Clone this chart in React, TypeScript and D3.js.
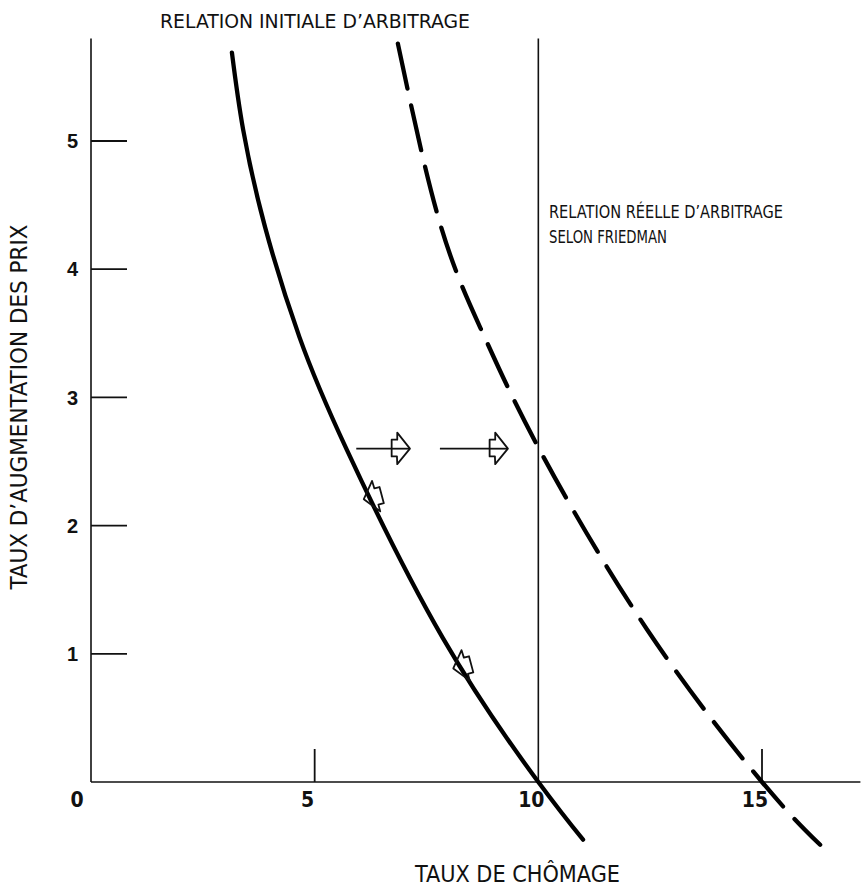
import React from "react";
import * as d3 from "d3";

// Phillips curves (unemployment %, price increase %)
const initialU = [3.15, 3.4, 3.89, 4.66, 5.72, 7.87, 10.0, 11.0];
const initialP = [5.69, 5.09, 4.33, 3.47, 2.59, 1.12, 0, -0.45];
const shiftedU = [6.86, 7.8, 8.76, 10.0, 12.43, 15.0, 16.3];
const shiftedP = [5.76, 4.36, 3.5, 2.61, 1.19, 0, -0.49];

// Friedman vertical (natural rate)
const naturalU = 10;

// horizontal shift arrows
const shiftFromU = [5.93, 7.8];
const shiftToU = [7.13, 9.32];
const shiftP = 2.6;

// arrows along the initial curve
const moveU = [6.25, 8.25];
const moveP = [2.22, 0.9];

const xTickVals = [0, 5, 10, 15];
const xTickLabels = ["0", "5", "10", "15"];
const yTickVals = [1, 2, 3, 4, 5];
const yTickLabels = ["1", "2", "3", "4", "5"];

const titleInitial = "RELATION INITIALE D\u2019ARBITRAGE";
const titleReal1 = "RELATION R\u00c9ELLE D\u2019ARBITRAGE";
const titleReal2 = "SELON FRIEDMAN";
const xLabel = "TAUX DE CH\u00d4MAGE";
const yLabel = "TAUX D\u2019AUGMENTATION DES PRIX";

const W = 861;
const H = 887;
const FONT = "'Liberation Sans Narrow', 'DejaVu Sans Condensed', 'Liberation Sans', sans-serif";

const x = d3.scaleLinear().domain([0, 15]).range([91, 762]);
const y = d3.scaleLinear().domain([0, 5]).range([782, 141]);

const arrowHead: [number, number][] = [
  [0, 0],
  [-12.7, -16],
  [-12.7, -9],
  [-18.3, -9],
  [-18.3, 7.7],
  [-13, 7.7],
  [-12.7, 15.5],
];
const headPath = "M" + arrowHead.map((p) => p.join(",")).join("L") + "Z";

export default function App() {
  const line = d3
    .line<[number, number]>()
    .x((d) => x(d[0]))
    .y((d) => y(d[1]))
    .curve(d3.curveNatural);
  const initial = line(initialU.map((u, i) => [u, initialP[i]]) as [number, number][]) || "";
  const shifted = line(shiftedU.map((u, i) => [u, shiftedP[i]]) as [number, number][]) || "";

  const yTop = 5.8;
  const xRight = 17.2;

  return (
    <svg
      width={W}
      height={H}
      style={{ position: "absolute", left: 0, top: 0, background: "#fff" }}
      fontFamily={FONT}
    >
      <rect width={W} height={H} fill="#fff" />
      {/* axes */}
      <line x1={x(0)} x2={x(0)} y1={y(0)} y2={y(yTop)} stroke="#111" strokeWidth={1.6} />
      <line x1={x(0)} x2={x(xRight)} y1={y(0)} y2={y(0)} stroke="#111" strokeWidth={1.6} />
      {/* natural rate vertical */}
      <line x1={x(naturalU)} x2={x(naturalU)} y1={y(0)} y2={y(yTop)} stroke="#111" strokeWidth={1.6} />

      {/* y ticks */}
      {yTickVals.map((v, i) => (
        <g key={"yt" + v}>
          <line x1={x(0)} x2={x(0) + 36} y1={y(v)} y2={y(v)} stroke="#111" strokeWidth={1.8} />
          <text
            x={x(0) - 13}
            y={y(v)}
            dy="0.36em"
            textAnchor="end"
            fontSize={20}
            fontWeight="bold"
            fontFamily="'Liberation Sans', sans-serif"
            fill="#111"
          >
            {yTickLabels[i]}
          </text>
        </g>
      ))}
      {/* x ticks */}
      {xTickVals.map((v, i) => (
        <g key={"xt" + v}>
          {v !== 0 && v !== naturalU && (
            <line x1={x(v)} x2={x(v)} y1={y(0)} y2={y(0) - 33} stroke="#111" strokeWidth={1.8} />
          )}
          <text
            x={x(v) + (v === 0 ? -14 : -7)}
            y={y(0) + 25}
            textAnchor="middle"
            fontSize={21}
            fontFamily={FONT}
            fontWeight="bold"
            fill="#111"
          >
            {xTickLabels[i]}
          </text>
        </g>
      ))}

      {/* curves */}
      <path d={initial} fill="none" stroke="#000" strokeWidth={4.3} strokeLinecap="round" />
      <path
        d={shifted}
        fill="none"
        stroke="#000"
        strokeWidth={4.3}
        strokeLinecap="round"
        strokeDasharray="46 17"
      />

      {/* horizontal shift arrows */}
      {shiftFromU.map((u, i) => (
        <g key={"sa" + i}>
          <line x1={x(u)} x2={x(shiftToU[i])} y1={y(shiftP)} y2={y(shiftP)} stroke="#111" strokeWidth={1.8} />
          <path
            d={headPath}
            transform={`translate(${x(shiftToU[i])},${y(shiftP)})`}
            fill="#fff"
            stroke="#111"
            strokeWidth={1.8}
            strokeLinejoin="round"
          />
          <line
            x1={x(shiftToU[i]) - 18}
            x2={x(shiftToU[i])}
            y1={y(shiftP)}
            y2={y(shiftP)}
            stroke="#111"
            strokeWidth={1.8}
          />
        </g>
      ))}

      {/* arrows along initial curve */}
      {moveU.map((u, i) => (
        <path
          key={"ma" + i}
          d={headPath}
          transform={`translate(${x(u)},${y(moveP[i])}) rotate(165) translate(7,0)`}
          fill="none"
          stroke="#111"
          strokeWidth={1.8}
          strokeLinejoin="round"
        />
      ))}

      {/* labels */}
      <text x={160} y={28} fontSize={20} fill="#111" textLength={310} lengthAdjust="spacingAndGlyphs">
        {titleInitial}
      </text>
      <text x={549} y={218} fontSize={18} fill="#111" textLength={234} lengthAdjust="spacingAndGlyphs">
        {titleReal1}
      </text>
      <text x={549} y={243} fontSize={18} fill="#111" textLength={118} lengthAdjust="spacingAndGlyphs">
        {titleReal2}
      </text>
      <text x={415} y={882} fontSize={23} fill="#111" textLength={205} lengthAdjust="spacingAndGlyphs">
        {xLabel}
      </text>
      <text
        transform={`translate(27,407) rotate(-90)`}
        textAnchor="middle"
        fontSize={23}
        fill="#111"
        textLength={365}
        lengthAdjust="spacingAndGlyphs"
      >
        {yLabel}
      </text>
    </svg>
  );
}
